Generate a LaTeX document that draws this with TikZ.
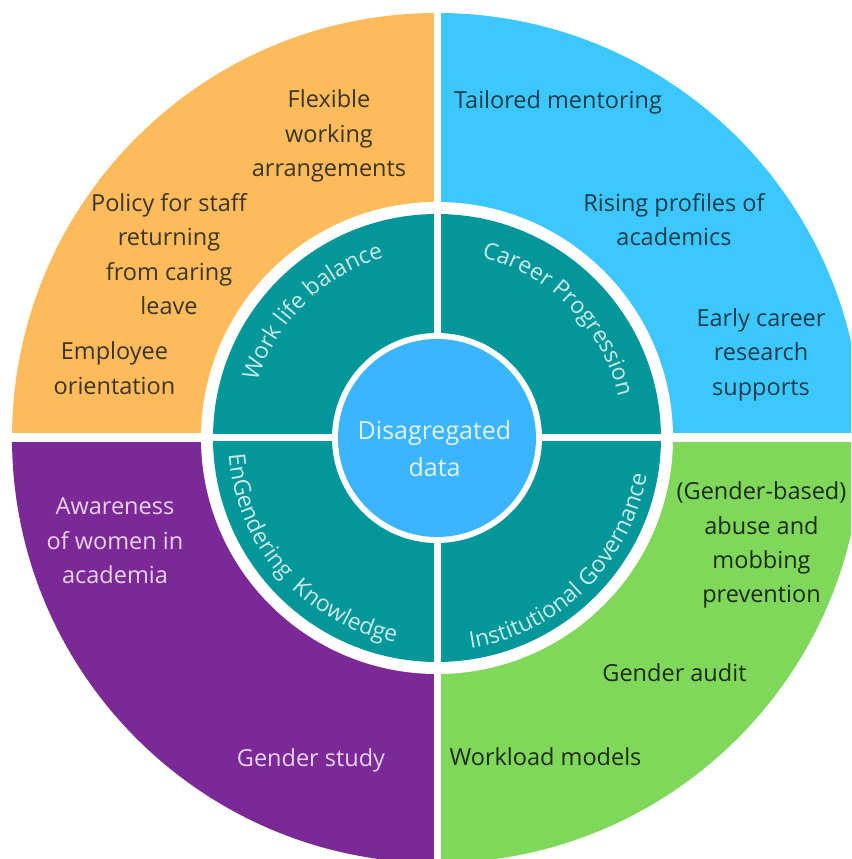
\documentclass[tikz,border=0pt]{standalone}
\usepackage{fontspec}
\setmainfont{Open Sans}
\usetikzlibrary{decorations.text}

\definecolor{qorange}{HTML}{FDBB5B}
\definecolor{qblue}{HTML}{3CC8FF}
\definecolor{qpurple}{HTML}{7B2996}
\definecolor{qgreen}{HTML}{80D85A}
\definecolor{ringteal}{HTML}{04979A}
\definecolor{corblue}{HTML}{3BB5FF}
\definecolor{otext}{HTML}{3B3526}
\definecolor{btext}{HTML}{183B4A}
\definecolor{ptext}{HTML}{E8D3EE}
\definecolor{gtext}{HTML}{1C2A16}
\definecolor{arctext}{HTML}{C8EBEB}
\definecolor{coretext}{HTML}{E2F3FF}

\newcommand\arcfont{\fontsize{23}{27}\selectfont\color{arctext}}

\begin{document}
\begin{tikzpicture}[x=1pt,y=1pt,
  item/.style={anchor=base, inner sep=0pt, font=\fontsize{23.5}{28}\selectfont},
  oitem/.style={item, text=otext},
  bitem/.style={item, text=btext},
  pitem/.style={item, text=ptext},
  gitem/.style={item, text=gtext},
  coreitem/.style={anchor=base, inner sep=0pt, text=coretext, font=\fontsize{25}{30}\selectfont},
  gap/.style={fill=white}]
\useasboundingbox (0,0) rectangle (851,859);
\clip (0,0) rectangle (851,859);
\coordinate (C) at (437,421);

\begin{scope}[shift={(C)}]
  % outer quadrants
  \fill[qorange] (0,0) -- (90:425) arc[start angle=90, end angle=180, radius=425] -- cycle;
  \fill[qblue]   (0,0) -- (0:425) arc[start angle=0, end angle=90, radius=425] -- cycle;
  \fill[qpurple] (0,0) -- (180:425) arc[start angle=180, end angle=270, radius=425] -- cycle;
  \fill[qgreen]  (0,0) -- (270:425) arc[start angle=270, end angle=360, radius=425] -- cycle;
  \fill[gap] (-3.5,-440) rectangle (3.5,440);
  \fill[gap] (-440,-4.5) rectangle (440,4.5);
  % teal ring with its white frame
  \fill[gap] (0,0) circle[radius=236];
  \fill[ringteal] (0,0) circle[radius=224];
  \fill[gap] (-3.5,-225) rectangle (3.5,225);
  \fill[gap] (-225,-3.5) rectangle (225,3.5);
  % core disc
  \fill[gap] (0,0) circle[radius=105];
  \fill[corblue] (0,0) circle[radius=99];

  % curved ring labels
  \path[decorate, decoration={text along path, text align=center,
      text={|\arcfont|Work life balance}}]
    (179.5:188) arc[start angle=179.5, end angle=89.5, radius=188];
  \path[decorate, decoration={text along path, text align=center,
      text={|\arcfont|Career Progression}}]
    (89.5:186) arc[start angle=89.5, end angle=-0.5, radius=186];
  \path[decorate, decoration={text along path, text align=center,
      text={|\arcfont|EnGendering{\ }{\ }Knowledge}}]
    (176.5:209) arc[start angle=176.5, end angle=266.5, radius=209];
  \path[decorate, decoration={text along path, text align=center,
      text={|\arcfont|Institutional Governance}}]
    (269.5:213) arc[start angle=269.5, end angle=359.5, radius=213];
\end{scope}

% core label
\node[coreitem] (core1) at (434.5,419.7) {Disagregated};
\node[coreitem] (core2) at (434.5,382.3) {data};

% work life balance items
\node[oitem] (flex1) at (329,751) {Flexible};
\node[oitem] (flex2) at (329,716.7) {working};
\node[oitem] (flex3) at (329,682.4) {arrangements};
\node[oitem] (pol1) at (169,647.3) {Policy for staff};
\node[oitem] (pol2) at (169,613) {returning};
\node[oitem] (pol3) at (169,578.7) {from caring};
\node[oitem] (pol4) at (169,544.4) {leave};
\node[oitem] (emp1) at (114.5,499) {Employee};
\node[oitem] (emp2) at (114.5,464.7) {orientation};

% career progression items
\node[bitem] (ment) at (558,750.7) {Tailored mentoring};
\node[bitem] (rise1) at (674,647.3) {Rising profiles of};
\node[bitem] (rise2) at (674,613) {academics};
\node[bitem] (early1) at (761,532.3) {Early career};
\node[bitem] (early2) at (761,498) {research};
\node[bitem] (early3) at (761,463.7) {supports};

% engendering knowledge items
\node[pitem] (aware1) at (115,344) {Awareness};
\node[pitem] (aware2) at (115,309.7) {of women in};
\node[pitem] (aware3) at (115,275.4) {academia};
\node[pitem] (study) at (311,92.3) {Gender study};

% institutional governance items
\node[gitem] (abuse1) at (761.5,359) {(Gender-based)};
\node[gitem] (abuse2) at (761.5,324.7) {abuse and};
\node[gitem] (abuse3) at (761.5,290.4) {mobbing};
\node[gitem] (abuse4) at (761.5,256.1) {prevention};
\node[gitem] (audit) at (674.5,177.3) {Gender audit};
\node[gitem] (load) at (545.5,93) {Workload models};
\end{tikzpicture}
\end{document}
